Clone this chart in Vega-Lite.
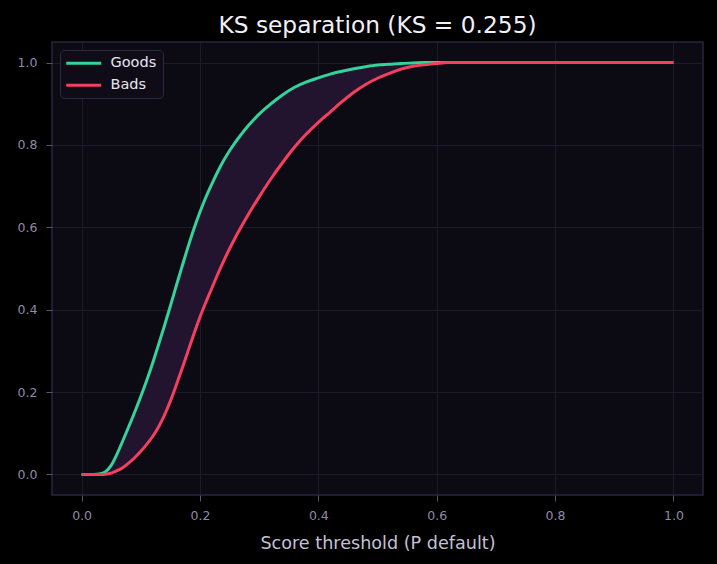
{
  "$schema": "https://vega.github.io/schema/vega-lite/v6.json",
  "width": 651,
  "height": 453,
  "autosize": "none",
  "padding": {"left": 52, "top": 42, "right": 14, "bottom": 69},
  "background": "#000000",
  "title": {"text": "KS separation (KS = 0.255)", "font": "DejaVu Sans", "fontSize": 23.3, "fontWeight": "normal", "color": "#f2f0f7", "offset": 4, "anchor": "middle"},
  "config": {
    "view": {"fill": "#0c0a13", "stroke": "#2a2540", "strokeWidth": 1.5},
    "font": "DejaVu Sans",
    "axis": {"domain": false, "grid": true, "gridColor": "#1e1a2c", "gridWidth": 1, "tickColor": "#5a5670", "tickSize": 6, "tickWidth": 1, "labelColor": "#8e8aa6", "labelFontSize": 12.5, "labelFont": "DejaVu Sans", "titleColor": "#c4c0d6", "titleFont": "DejaVu Sans", "titleFontSize": 17.6, "titleFontWeight": "normal"},
    "legend": {"orient": "top-left", "offset": 8, "fillColor": "#0f0c18", "strokeColor": "#2d2842", "cornerRadius": 4, "padding": 6, "labelColor": "#e8e6f0", "labelFontSize": 14.5, "labelFont": "DejaVu Sans", "symbolType": "M-1.4,0L5.6,0", "symbolStrokeWidth": 3, "symbolSize": 100, "labelOffset": 30, "rowPadding": 7, "title": null}
  },
  "data": {"values": [
    {"x": 0, "goods": 0, "bads": 0},
    {"x": 0.01, "goods": 0, "bads": 0},
    {"x": 0.02, "goods": 0, "bads": 0},
    {"x": 0.03, "goods": 0.001, "bads": 0},
    {"x": 0.04, "goods": 0.006, "bads": 0.0005},
    {"x": 0.05, "goods": 0.022, "bads": 0.003},
    {"x": 0.06, "goods": 0.05, "bads": 0.009},
    {"x": 0.07, "goods": 0.083, "bads": 0.017},
    {"x": 0.08, "goods": 0.117, "bads": 0.028},
    {"x": 0.09, "goods": 0.152, "bads": 0.041},
    {"x": 0.10, "goods": 0.189, "bads": 0.056},
    {"x": 0.11, "goods": 0.228, "bads": 0.073},
    {"x": 0.12, "goods": 0.27, "bads": 0.092},
    {"x": 0.13, "goods": 0.315, "bads": 0.115},
    {"x": 0.14, "goods": 0.361, "bads": 0.144},
    {"x": 0.15, "goods": 0.409, "bads": 0.178},
    {"x": 0.16, "goods": 0.458, "bads": 0.217},
    {"x": 0.17, "goods": 0.506, "bads": 0.258},
    {"x": 0.18, "goods": 0.553, "bads": 0.3},
    {"x": 0.19, "goods": 0.597, "bads": 0.342},
    {"x": 0.20, "goods": 0.637, "bads": 0.382},
    {"x": 0.21, "goods": 0.673, "bads": 0.418},
    {"x": 0.22, "goods": 0.705, "bads": 0.452},
    {"x": 0.23, "goods": 0.735, "bads": 0.486},
    {"x": 0.24, "goods": 0.762, "bads": 0.518},
    {"x": 0.25, "goods": 0.786, "bads": 0.548},
    {"x": 0.26, "goods": 0.807, "bads": 0.576},
    {"x": 0.27, "goods": 0.826, "bads": 0.602},
    {"x": 0.28, "goods": 0.844, "bads": 0.627},
    {"x": 0.29, "goods": 0.86, "bads": 0.651},
    {"x": 0.30, "goods": 0.875, "bads": 0.674},
    {"x": 0.32, "goods": 0.9, "bads": 0.718},
    {"x": 0.34, "goods": 0.922, "bads": 0.758},
    {"x": 0.36, "goods": 0.94, "bads": 0.795},
    {"x": 0.38, "goods": 0.953, "bads": 0.827},
    {"x": 0.40, "goods": 0.963, "bads": 0.855},
    {"x": 0.42, "goods": 0.972, "bads": 0.88},
    {"x": 0.44, "goods": 0.979, "bads": 0.905},
    {"x": 0.46, "goods": 0.985, "bads": 0.928},
    {"x": 0.48, "goods": 0.99, "bads": 0.947},
    {"x": 0.50, "goods": 0.994, "bads": 0.962},
    {"x": 0.52, "goods": 0.996, "bads": 0.974},
    {"x": 0.54, "goods": 0.998, "bads": 0.984},
    {"x": 0.56, "goods": 0.999, "bads": 0.991},
    {"x": 0.58, "goods": 1.0, "bads": 0.995},
    {"x": 0.60, "goods": 1.0, "bads": 0.998},
    {"x": 0.62, "goods": 1.0, "bads": 1.0},
    {"x": 0.70, "goods": 1.0, "bads": 1.0},
    {"x": 0.80, "goods": 1.0, "bads": 1.0},
    {"x": 0.90, "goods": 1.0, "bads": 1.0},
    {"x": 1.0, "goods": 1.0, "bads": 1.0}
  ]},
  "layer": [
    {
      "mark": {"type": "area", "color": "#22132f", "opacity": 1, "interpolate": "monotone"},
      "encoding": {
        "x": {"field": "x", "type": "quantitative", "scale": {"domain": [-0.05, 1.05], "nice": false, "zero": false}, "axis": {"values": [0, 0.2, 0.4, 0.6, 0.8, 1.0], "format": ".1f", "title": "Score threshold (P default)", "labelPadding": 8, "titlePadding": 13}},
        "y": {"field": "goods", "type": "quantitative", "scale": {"domain": [-0.05, 1.05], "nice": false, "zero": false}, "axis": {"values": [0, 0.2, 0.4, 0.6, 0.8, 1.0], "format": ".1f", "title": null, "labelPadding": 9}},
        "y2": {"field": "bads"}
      }
    },
    {
      "transform": [{"fold": ["goods", "bads"], "as": ["key", "value"]}, {"lookup": "key", "from": {"data": {"values": [{"key": "goods", "series": "Goods"}, {"key": "bads", "series": "Bads"}]}, "key": "key", "fields": ["series"]}}],
      "mark": {"type": "line", "strokeWidth": 3, "interpolate": "monotone"},
      "encoding": {
        "x": {"field": "x", "type": "quantitative"},
        "y": {"field": "value", "type": "quantitative"},
        "color": {"field": "series", "type": "nominal", "scale": {"domain": ["Goods", "Bads"], "range": ["#34d399", "#f43f5e"]}, "legend": {"title": null}}
      }
    }
  ]
}
